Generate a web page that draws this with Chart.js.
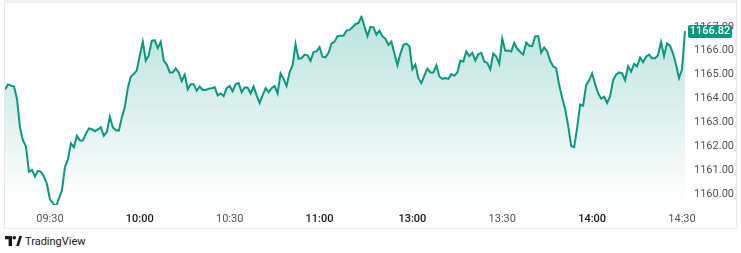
<!DOCTYPE html>
<html>
<head>
<meta charset="utf-8">
<title>Intraday</title>
<script src="https://cdn.jsdelivr.net/npm/chart.js@4.4.1/dist/chart.umd.min.js"></script>
<style>
  html, body { margin: 0; padding: 0; background: #fff; }
  #wrap { position: relative; width: 741px; height: 253px; overflow: hidden; }
  #chartBox { position: absolute; left: 0; top: 0; width: 741px; height: 229px; }
  #frame { position: absolute; left: 4px; top: 0; width: 731px; height: 225px;
           border: 1px solid #e6e8ee; border-top: 3px solid #eff1f5; pointer-events: none; }
  #logo { position: absolute; left: 5px; top: 234px; height: 14px; display: flex; align-items: center;
          font-family: Roboto, sans-serif; font-size: 11px; color: #131722; }
  #logo svg { margin-right: 3px; }
</style>
</head>
<body>
<div id="wrap">
  <div id="chartBox"><canvas id="chart" width="741" height="229"></canvas></div>
  <div id="frame"></div>
  <div id="logo">
    <svg width="17" height="10" viewBox="0 0 17 10">
      <path d="M0 0H7V10H3.6V3.3H0Z" fill="#131722"/>
      <circle cx="9.3" cy="1.8" r="1.8" fill="#131722"/>
      <path d="M11.2 10L14.3 0H17L13.9 10Z" fill="#131722"/>
    </svg>
    <span>TradingView</span>
  </div>
</div>
<script>
// trading sessions (one point per minute), morning and afternoon
var sessions = [['09:15', '11:30'], ['13:00', '14:31']];
var xTickLabels = ['09:30', '10:00', '10:30', '11:00', '13:00', '13:30', '14:00', '14:30'];
var yTickValues = [1160, 1161, 1162, 1163, 1164, 1165, 1166, 1167];

// 09:15 -> 11:30
var amPrices = [
  1164.38, 1164.59, 1164.54, 1164.50, 1163.98, 1162.79, 1162.24, 1162.00, 1160.93, 1161.01,
  1160.73, 1160.97, 1160.93, 1160.73, 1160.42, 1159.78, 1159.62, 1159.47, 1159.82, 1160.14,
  1161.13, 1161.45, 1162.12, 1161.96, 1162.44, 1162.24, 1162.24, 1162.52, 1162.75, 1162.71,
  1162.63, 1162.71, 1162.79, 1162.44, 1162.59, 1163.23, 1162.79, 1162.67, 1162.65, 1163.20,
  1163.64, 1164.43, 1164.92, 1165.02, 1165.18, 1165.81, 1166.37, 1165.59, 1165.81, 1166.41,
  1166.44, 1166.11, 1166.37, 1165.58, 1165.42, 1165.09, 1165.09, 1165.26, 1165.09, 1164.73,
  1165.00, 1164.39, 1164.60, 1164.60, 1164.32, 1164.50, 1164.36, 1164.36, 1164.41, 1164.43,
  1164.47, 1164.13, 1164.21, 1164.10, 1164.43, 1164.52, 1164.30, 1164.60, 1164.65, 1164.26,
  1164.46, 1164.46, 1164.21, 1164.50, 1164.13, 1163.81, 1164.13, 1164.43, 1164.26, 1164.43,
  1164.52, 1164.21, 1165.05, 1164.82, 1164.52, 1165.09, 1165.39, 1166.28, 1165.66, 1165.68,
  1165.84, 1165.81, 1165.58, 1165.95, 1165.97, 1166.15, 1165.75, 1165.72, 1165.91, 1166.30,
  1166.37, 1166.61, 1166.63, 1166.63, 1166.84, 1166.87, 1166.98, 1167.11, 1167.16, 1167.43,
  1167.00, 1166.61, 1167.00, 1166.98, 1166.67, 1166.84, 1166.61, 1166.50, 1166.24, 1166.38,
  1165.88, 1165.39, 1165.88, 1166.25, 1166.30, 1166.19
];
// 13:00 -> 14:31
var pmPrices = [
  1165.22, 1165.42, 1164.85, 1164.65, 1164.96, 1165.25, 1165.09, 1165.09, 1165.39, 1164.92,
  1164.82, 1164.86, 1164.82, 1165.02, 1164.95, 1165.09, 1165.58, 1165.55, 1165.97, 1165.77,
  1165.91, 1165.59, 1165.85, 1165.91, 1165.55, 1165.49, 1165.22, 1165.88, 1165.75, 1165.45,
  1166.50, 1166.00, 1166.01, 1165.97, 1166.33, 1166.08, 1165.95, 1165.84, 1166.34, 1166.21,
  1166.19, 1166.61, 1166.61, 1165.92, 1166.13, 1165.97, 1165.58, 1165.35, 1165.26, 1164.56,
  1164.03, 1163.55, 1162.85, 1162.01, 1161.96, 1162.78, 1163.74, 1163.70, 1164.56, 1164.76,
  1165.05, 1164.60, 1164.21, 1163.99, 1164.07, 1163.81, 1164.10, 1164.76, 1165.00, 1165.09,
  1165.05, 1164.76, 1165.35, 1165.12, 1165.45, 1165.35, 1165.71, 1165.52, 1165.75, 1165.84,
  1165.68, 1165.68, 1165.81, 1166.37, 1165.77, 1166.30, 1166.21, 1165.88, 1165.42, 1164.85,
  1165.22, 1166.82
];

var lineColor = '#089981';

function minutesOf(t)
{
    var p = t.split(':');
    return Number(p[0]) * 60 + Number(p[1]);
}
function pad(n)
{
    return (n < 10 ? '0' : '') + n;
}

var timeLabels = [];
sessions.forEach(function (s) {
    for (var m = minutesOf(s[0]); m <= minutesOf(s[1]); m++)
        timeLabels.push(pad(Math.floor(m / 60)) + ':' + pad(m % 60));
});
var prices = amPrices.concat(pmPrices);

// green box with last price on the right axis
var priceTag = {
    id: 'priceTag',
    afterDraw: function (chart) {
        var c = chart.ctx;
        var last = prices[prices.length - 1];
        var y = Math.round(chart.scales.y.getPixelForValue(last));
        var x = chart.chartArea.right + 3;
        c.save();
        c.fillStyle = lineColor;
        c.beginPath();
        c.roundRect(x, y - 6, 44, 13, 2);
        c.fill();
        c.fillStyle = '#ffffff';
        c.font = '500 11px Roboto';
        c.textAlign = 'center';
        c.textBaseline = 'middle';
        c.fillText(last.toFixed(2), x + 22, y + 0.5);
        c.restore();
    }
};

var chart = new Chart(document.getElementById('chart'), {
    type: 'line',
    data: {
        labels: timeLabels,
        datasets: [{
            data: prices,
            borderColor: lineColor,
            borderWidth: 2,
            pointRadius: 0,
            tension: 0,
            fill: 'start',
            backgroundColor: function (ctx) {
                var area = ctx.chart.chartArea;
                if (!area) return 'rgba(8,153,129,0.1)';
                var g = ctx.chart.ctx.createLinearGradient(0, area.top, 0, area.bottom);
                g.addColorStop(0, 'rgba(8,153,129,0.28)');
                g.addColorStop(1, 'rgba(8,153,129,0.0)');
                return g;
            }
        }]
    },
    options: {
        responsive: false,
        devicePixelRatio: 1,
        animation: false,
        layout: { padding: { left: 5, top: 5, right: 4, bottom: 0 } },
        plugins: { legend: { display: false }, tooltip: { enabled: false } },
        scales: {
            x: {
                type: 'category',
                offset: false,
                grid: { display: false, drawTicks: false },
                border: { display: false },
                afterBuildTicks: function (scale) {
                    scale.ticks = scale.ticks.filter(function (t) {
                        return xTickLabels.indexOf(timeLabels[t.value]) >= 0;
                    });
                },
                afterFit: function (scale) { scale.height = 24; },
                ticks: {
                    autoSkip: false,
                    maxRotation: 0,
                    padding: 8,
                    color: function (ctx) {
                        return timeLabels[ctx.tick.value].slice(3) === '00' ? '#131722' : '#50535e';
                    },
                    font: function (ctx) {
                        var hour = timeLabels[ctx.tick.value].slice(3) === '00';
                        return { family: 'Roboto', size: 11, weight: hour ? '500' : 'normal' };
                    }
                }
            },
            y: {
                position: 'right',
                min: 1159.54,
                max: 1167.47,
                grid: { display: false, drawTicks: false },
                border: { display: false },
                afterBuildTicks: function (scale) {
                    scale.ticks = yTickValues.map(function (v) { return { value: v }; });
                },
                afterFit: function (scale) { scale.width = 52; },
                ticks: {
                    padding: 9,
                    color: '#50535e',
                    font: { family: 'Roboto', size: 11 },
                    callback: function (v) { return Number(v).toFixed(2); }
                }
            }
        }
    },
    plugins: [priceTag]
});
</script>
</body>
</html>
